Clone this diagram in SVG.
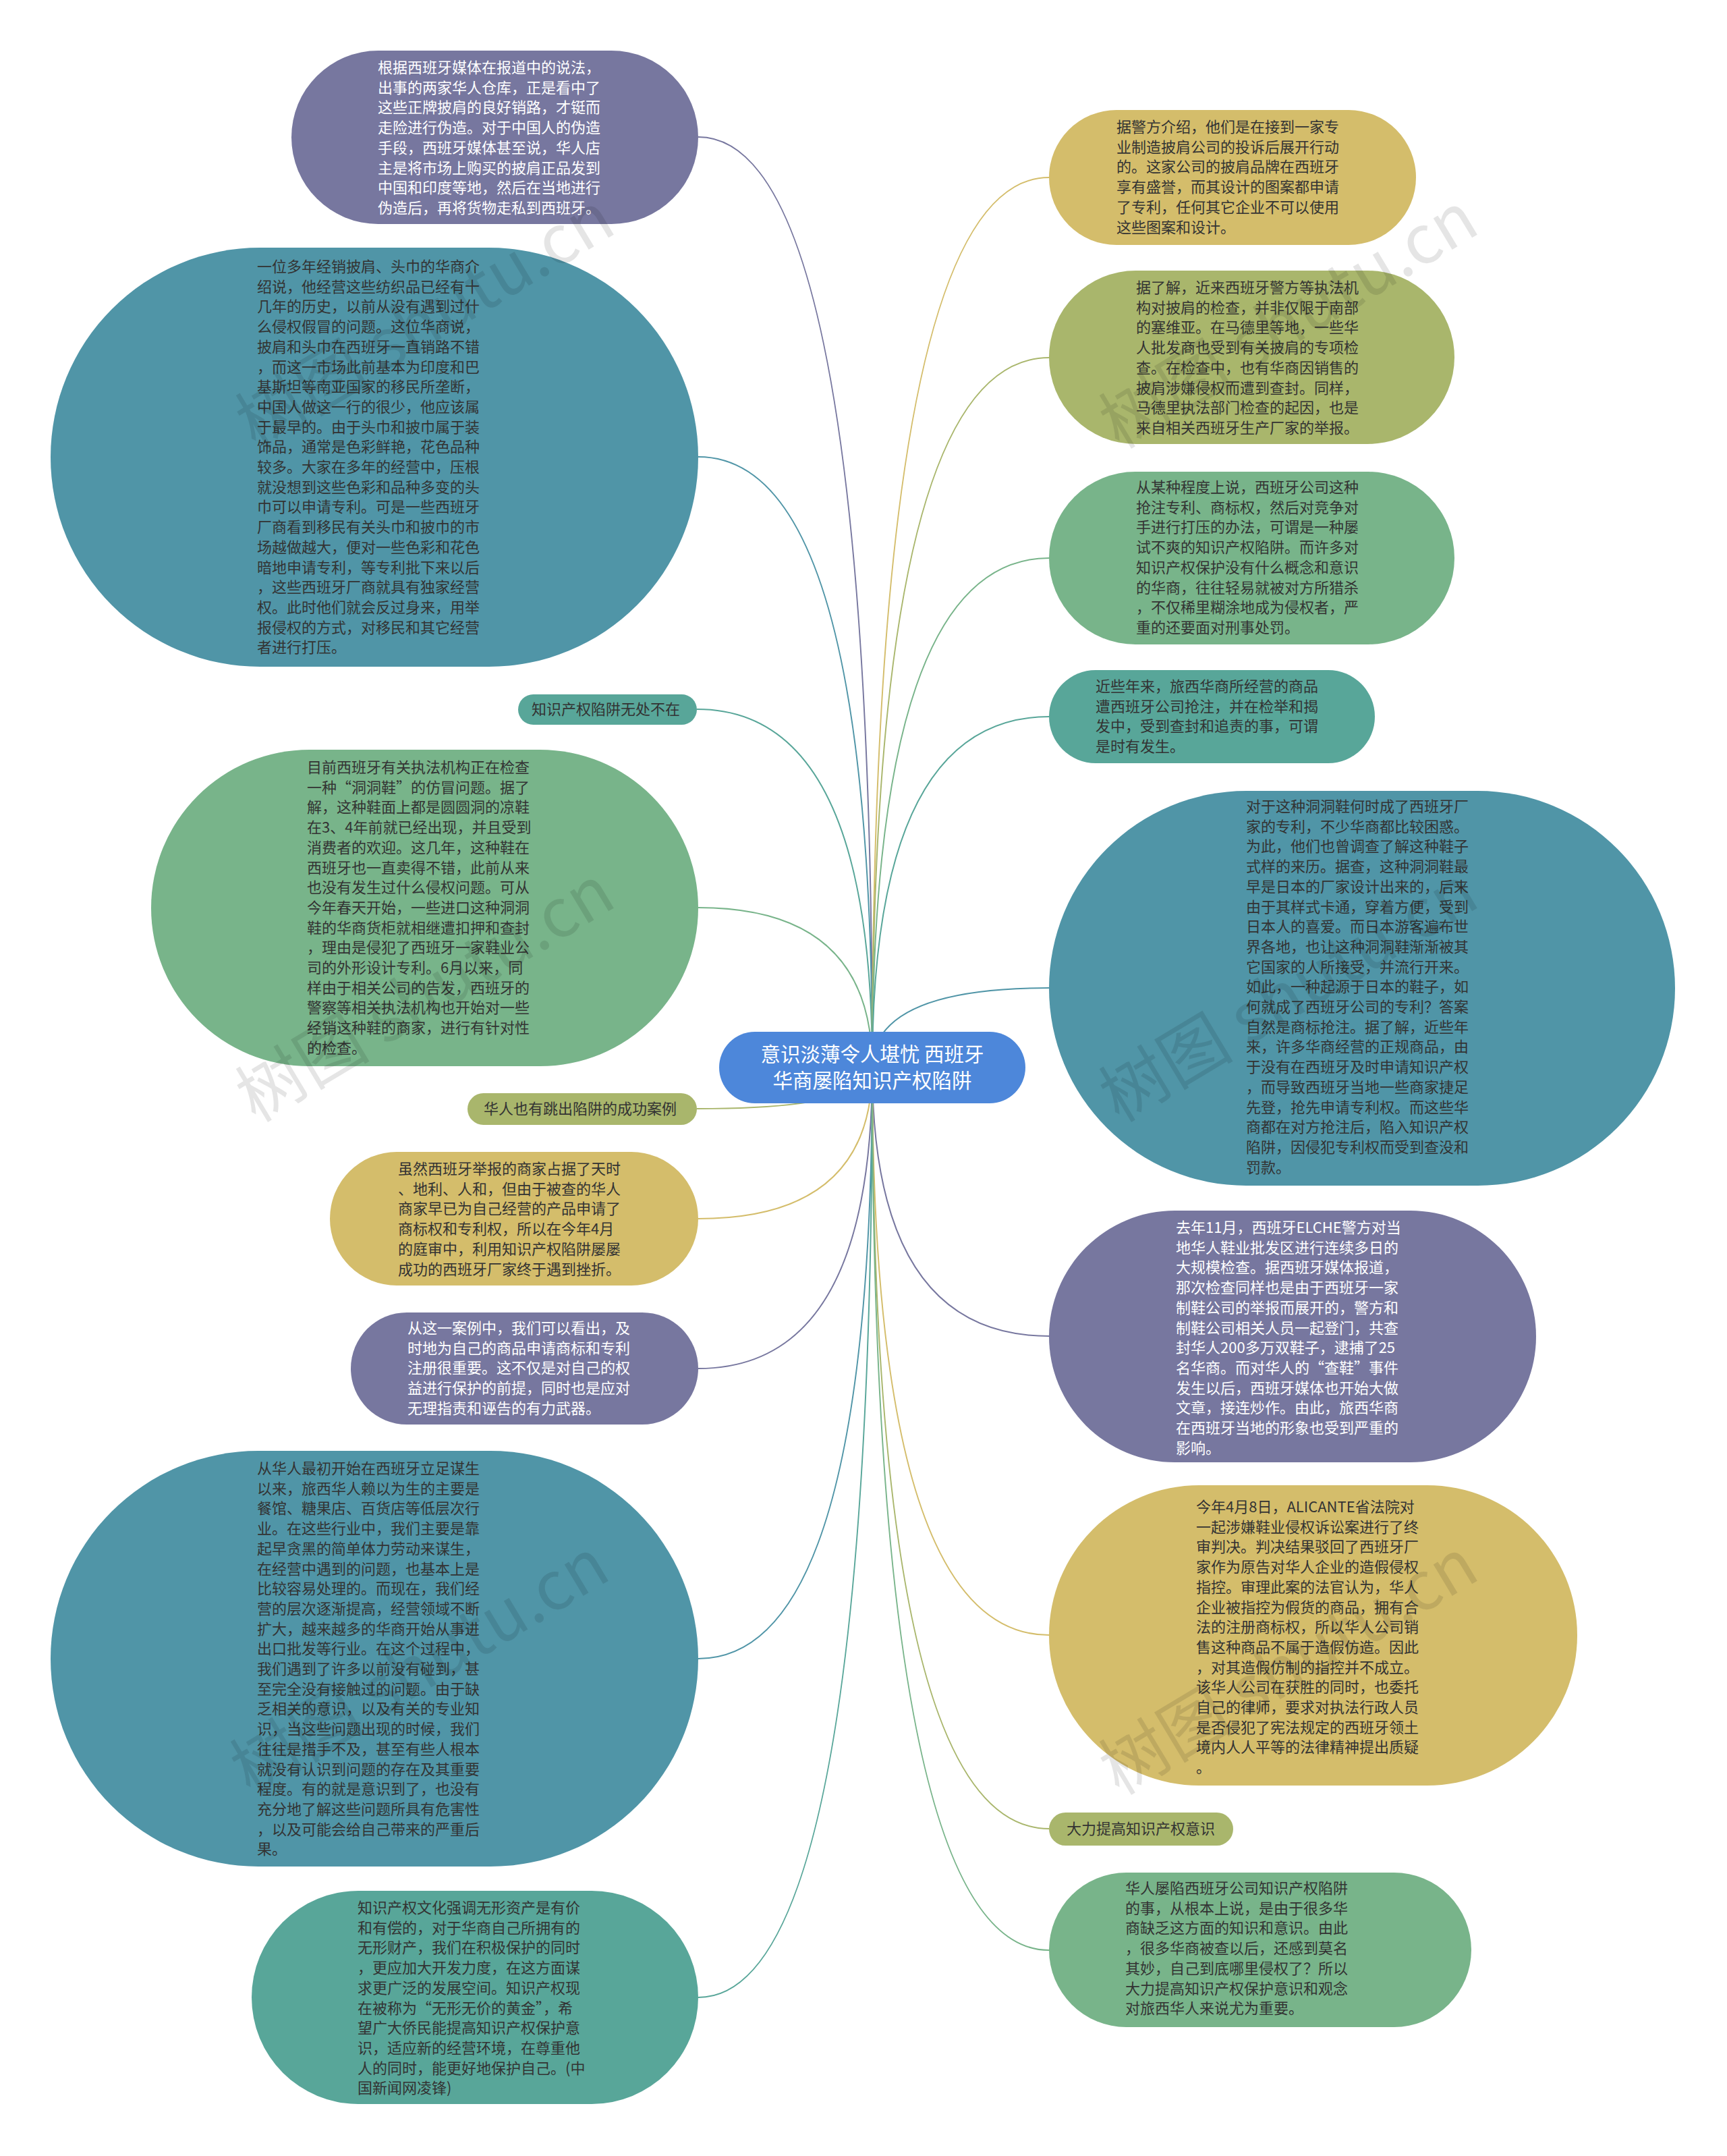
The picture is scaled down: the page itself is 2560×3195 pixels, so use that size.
<svg xmlns="http://www.w3.org/2000/svg" width="2560" height="3195" viewBox="0 0 2560 3195">
<style>
.t{font-family:"Noto Sans CJK SC","Noto Sans",sans-serif;font-size:22px}
.dk{fill:#333}
.wt{fill:#fff}
.e{fill:none;stroke-width:2}
.wm{font-family:"Noto Sans CJK SC","Noto Sans",sans-serif;font-size:100px;fill:#000;fill-opacity:0.1;text-anchor:middle}
</style>
<rect width="2560" height="3195" fill="#fff"/>
<g id="connectors">
<path class="e" stroke="#77779f" d="M1293 1582 Q1293 203 1035 203"/>
<path class="e" stroke="#5095a7" d="M1293 1582 Q1293 677 1035 677"/>
<path class="e" stroke="#58a699" d="M1293 1582 Q1293 1051 1033 1051"/>
<path class="e" stroke="#78b48a" d="M1293 1582 Q1293 1345 1035 1345"/>
<path class="e" stroke="#a9b66c" d="M1293 1582 Q1293 1643 1033 1643"/>
<path class="e" stroke="#d4bd6b" d="M1293 1582 Q1293 1806 1035 1806"/>
<path class="e" stroke="#77779f" d="M1293 1582 Q1293 2028 1035 2028"/>
<path class="e" stroke="#5095a7" d="M1293 1582 Q1293 2458 1035 2458"/>
<path class="e" stroke="#58a699" d="M1293 1582 Q1293 2960 1035 2960"/>
<path class="e" stroke="#d4bd6b" d="M1293 1582 Q1293 263 1555 263"/>
<path class="e" stroke="#a9b66c" d="M1293 1582 Q1293 530 1555 530"/>
<path class="e" stroke="#78b48a" d="M1293 1582 Q1293 827 1555 827"/>
<path class="e" stroke="#58a699" d="M1293 1582 Q1293 1062 1555 1062"/>
<path class="e" stroke="#5095a7" d="M1293 1582 Q1293 1464 1555 1464"/>
<path class="e" stroke="#77779f" d="M1293 1582 Q1293 1980 1555 1980"/>
<path class="e" stroke="#d4bd6b" d="M1293 1582 Q1293 2423 1555 2423"/>
<path class="e" stroke="#a9b66c" d="M1293 1582 Q1293 2710 1555 2710"/>
<path class="e" stroke="#78b48a" d="M1293 1582 Q1293 2890 1555 2890"/>
</g>

<g id="center">
<rect x="1066" y="1529" width="454" height="106" rx="53" fill="#4d87da"/>
<text class="wt" font-family="Noto Sans CJK SC, sans-serif" font-size="29.5" text-anchor="middle"><tspan x="1293" y="1573">意识淡薄令人堪忧 西班牙</tspan><tspan x="1293" y="1612">华商屡陷知识产权陷阱</tspan></text>
</g>

<g id="n1">
<rect x="432" y="75" width="603" height="257" rx="128.5" fill="#77779f"/>
<text class="t wt"><tspan x="560" y="108">根据西班牙媒体在报道中的说法，</tspan><tspan x="560" dy="29.7">出事的两家华人仓库，正是看中了</tspan><tspan x="560" dy="29.7">这些正牌披肩的良好销路，才铤而</tspan><tspan x="560" dy="29.7">走险进行伪造。对于中国人的伪造</tspan><tspan x="560" dy="29.7">手段，西班牙媒体甚至说，华人店</tspan><tspan x="560" dy="29.7">主是将市场上购买的披肩正品发到</tspan><tspan x="560" dy="29.7">中国和印度等地，然后在当地进行</tspan><tspan x="560" dy="29.7">伪造后，再将货物走私到西班牙。</tspan></text>
</g>

<g id="n2">
<rect x="75" y="367" width="960" height="621" rx="310.5" fill="#5095a7"/>
<text class="t dk"><tspan x="381" y="403">一位多年经销披肩、头巾的华商介</tspan><tspan x="381" dy="29.7">绍说，他经营这些纺织品已经有十</tspan><tspan x="381" dy="29.7">几年的历史，以前从没有遇到过什</tspan><tspan x="381" dy="29.7">么侵权假冒的问题。这位华商说，</tspan><tspan x="381" dy="29.7">披肩和头巾在西班牙一直销路不错</tspan><tspan x="381" dy="29.7">，而这一市场此前基本为印度和巴</tspan><tspan x="381" dy="29.7">基斯坦等南亚国家的移民所垄断，</tspan><tspan x="381" dy="29.7">中国人做这一行的很少，他应该属</tspan><tspan x="381" dy="29.7">于最早的。由于头巾和披巾属于装</tspan><tspan x="381" dy="29.7">饰品，通常是色彩鲜艳，花色品种</tspan><tspan x="381" dy="29.7">较多。大家在多年的经营中，压根</tspan><tspan x="381" dy="29.7">就没想到这些色彩和品种多变的头</tspan><tspan x="381" dy="29.7">巾可以申请专利。可是一些西班牙</tspan><tspan x="381" dy="29.7">厂商看到移民有关头巾和披巾的市</tspan><tspan x="381" dy="29.7">场越做越大，便对一些色彩和花色</tspan><tspan x="381" dy="29.7">暗地申请专利，等专利批下来以后</tspan><tspan x="381" dy="29.7">，这些西班牙厂商就具有独家经营</tspan><tspan x="381" dy="29.7">权。此时他们就会反过身来，用举</tspan><tspan x="381" dy="29.7">报侵权的方式，对移民和其它经营</tspan><tspan x="381" dy="29.7">者进行打压。</tspan></text>
</g>

<g id="l1">
<rect x="768" y="1029" width="265" height="45" rx="22.5" fill="#58a699"/>
<text class="t dk"><tspan x="788" y="1059">知识产权陷阱无处不在</tspan></text>
</g>

<g id="n3">
<rect x="224" y="1111" width="811" height="469" rx="234.5" fill="#78b48a"/>
<text class="t dk"><tspan x="455" y="1145">目前西班牙有关执法机构正在检查</tspan><tspan x="455" dy="29.7">一种“洞洞鞋”的仿冒问题。据了</tspan><tspan x="455" dy="29.7">解，这种鞋面上都是圆圆洞的凉鞋</tspan><tspan x="455" dy="29.7">在3、4年前就已经出现，并且受到</tspan><tspan x="455" dy="29.7">消费者的欢迎。这几年，这种鞋在</tspan><tspan x="455" dy="29.7">西班牙也一直卖得不错，此前从来</tspan><tspan x="455" dy="29.7">也没有发生过什么侵权问题。可从</tspan><tspan x="455" dy="29.7">今年春天开始，一些进口这种洞洞</tspan><tspan x="455" dy="29.7">鞋的华商货柜就相继遭扣押和查封</tspan><tspan x="455" dy="29.7">，理由是侵犯了西班牙一家鞋业公</tspan><tspan x="455" dy="29.7">司的外形设计专利。6月以来，同</tspan><tspan x="455" dy="29.7">样由于相关公司的告发，西班牙的</tspan><tspan x="455" dy="29.7">警察等相关执法机构也开始对一些</tspan><tspan x="455" dy="29.7">经销这种鞋的商家，进行有针对性</tspan><tspan x="455" dy="29.7">的检查。</tspan></text>
</g>

<g id="l2">
<rect x="693" y="1620" width="340" height="47" rx="23.5" fill="#a9b66c"/>
<text class="t dk"><tspan x="717" y="1651">华人也有跳出陷阱的成功案例</tspan></text>
</g>

<g id="n4">
<rect x="489" y="1707" width="546" height="198" rx="99" fill="#d4bd6b"/>
<text class="t dk"><tspan x="590" y="1740">虽然西班牙举报的商家占据了天时</tspan><tspan x="590" dy="29.7">、地利、人和，但由于被查的华人</tspan><tspan x="590" dy="29.7">商家早已为自己经营的产品申请了</tspan><tspan x="590" dy="29.7">商标权和专利权，所以在今年4月</tspan><tspan x="590" dy="29.7">的庭审中，利用知识产权陷阱屡屡</tspan><tspan x="590" dy="29.7">成功的西班牙厂家终于遇到挫折。</tspan></text>
</g>

<g id="n5">
<rect x="520" y="1945" width="515" height="166" rx="83" fill="#77779f"/>
<text class="t wt"><tspan x="604" y="1976">从这一案例中，我们可以看出，及</tspan><tspan x="604" dy="29.7">时地为自己的商品申请商标和专利</tspan><tspan x="604" dy="29.7">注册很重要。这不仅是对自己的权</tspan><tspan x="604" dy="29.7">益进行保护的前提，同时也是应对</tspan><tspan x="604" dy="29.7">无理指责和诬告的有力武器。</tspan></text>
</g>

<g id="n6">
<rect x="75" y="2150" width="960" height="616" rx="308" fill="#5095a7"/>
<text class="t dk"><tspan x="381" y="2184">从华人最初开始在西班牙立足谋生</tspan><tspan x="381" dy="29.7">以来，旅西华人赖以为生的主要是</tspan><tspan x="381" dy="29.7">餐馆、糖果店、百货店等低层次行</tspan><tspan x="381" dy="29.7">业。在这些行业中，我们主要是靠</tspan><tspan x="381" dy="29.7">起早贪黑的简单体力劳动来谋生，</tspan><tspan x="381" dy="29.7">在经营中遇到的问题，也基本上是</tspan><tspan x="381" dy="29.7">比较容易处理的。而现在，我们经</tspan><tspan x="381" dy="29.7">营的层次逐渐提高，经营领域不断</tspan><tspan x="381" dy="29.7">扩大，越来越多的华商开始从事进</tspan><tspan x="381" dy="29.7">出口批发等行业。在这个过程中，</tspan><tspan x="381" dy="29.7">我们遇到了许多以前没有碰到，甚</tspan><tspan x="381" dy="29.7">至完全没有接触过的问题。由于缺</tspan><tspan x="381" dy="29.7">乏相关的意识，以及有关的专业知</tspan><tspan x="381" dy="29.7">识，当这些问题出现的时候，我们</tspan><tspan x="381" dy="29.7">往往是措手不及，甚至有些人根本</tspan><tspan x="381" dy="29.7">就没有认识到问题的存在及其重要</tspan><tspan x="381" dy="29.7">程度。有的就是意识到了，也没有</tspan><tspan x="381" dy="29.7">充分地了解这些问题所具有危害性</tspan><tspan x="381" dy="29.7">，以及可能会给自己带来的严重后</tspan><tspan x="381" dy="29.7">果。</tspan></text>
</g>

<g id="n7">
<rect x="373" y="2802" width="662" height="316" rx="158" fill="#58a699"/>
<text class="t dk"><tspan x="530" y="2835">知识产权文化强调无形资产是有价</tspan><tspan x="530" dy="29.7">和有偿的，对于华商自己所拥有的</tspan><tspan x="530" dy="29.7">无形财产，我们在积极保护的同时</tspan><tspan x="530" dy="29.7">，更应加大开发力度，在这方面谋</tspan><tspan x="530" dy="29.7">求更广泛的发展空间。知识产权现</tspan><tspan x="530" dy="29.7">在被称为“无形无价的黄金”，希</tspan><tspan x="530" dy="29.7">望广大侨民能提高知识产权保护意</tspan><tspan x="530" dy="29.7">识，适应新的经营环境，在尊重他</tspan><tspan x="530" dy="29.7">人的同时，能更好地保护自己。(中</tspan><tspan x="530" dy="29.7">国新闻网凌锋)</tspan></text>
</g>

<g id="r1">
<rect x="1555" y="163" width="544" height="200" rx="100" fill="#d4bd6b"/>
<text class="t dk"><tspan x="1655" y="196">据警方介绍，他们是在接到一家专</tspan><tspan x="1655" dy="29.7">业制造披肩公司的投诉后展开行动</tspan><tspan x="1655" dy="29.7">的。这家公司的披肩品牌在西班牙</tspan><tspan x="1655" dy="29.7">享有盛誉，而其设计的图案都申请</tspan><tspan x="1655" dy="29.7">了专利，任何其它企业不可以使用</tspan><tspan x="1655" dy="29.7">这些图案和设计。</tspan></text>
</g>

<g id="r2">
<rect x="1555" y="401" width="601" height="257" rx="128.5" fill="#a9b66c"/>
<text class="t dk"><tspan x="1684" y="434">据了解，近来西班牙警方等执法机</tspan><tspan x="1684" dy="29.7">构对披肩的检查，并非仅限于南部</tspan><tspan x="1684" dy="29.7">的塞维亚。在马德里等地，一些华</tspan><tspan x="1684" dy="29.7">人批发商也受到有关披肩的专项检</tspan><tspan x="1684" dy="29.7">查。在检查中，也有华商因销售的</tspan><tspan x="1684" dy="29.7">披肩涉嫌侵权而遭到查封。同样，</tspan><tspan x="1684" dy="29.7">马德里执法部门检查的起因，也是</tspan><tspan x="1684" dy="29.7">来自相关西班牙生产厂家的举报。</tspan></text>
</g>

<g id="r3">
<rect x="1555" y="699" width="601" height="256" rx="128" fill="#78b48a"/>
<text class="t dk"><tspan x="1684" y="730">从某种程度上说，西班牙公司这种</tspan><tspan x="1684" dy="29.7">抢注专利、商标权，然后对竞争对</tspan><tspan x="1684" dy="29.7">手进行打压的办法，可谓是一种屡</tspan><tspan x="1684" dy="29.7">试不爽的知识产权陷阱。而许多对</tspan><tspan x="1684" dy="29.7">知识产权保护没有什么概念和意识</tspan><tspan x="1684" dy="29.7">的华商，往往轻易就被对方所猎杀</tspan><tspan x="1684" dy="29.7">，不仅稀里糊涂地成为侵权者，严</tspan><tspan x="1684" dy="29.7">重的还要面对刑事处罚。</tspan></text>
</g>

<g id="r4">
<rect x="1555" y="993" width="483" height="138" rx="69" fill="#58a699"/>
<text class="t dk"><tspan x="1624" y="1025">近些年来，旅西华商所经营的商品</tspan><tspan x="1624" dy="29.7">遭西班牙公司抢注，并在检举和揭</tspan><tspan x="1624" dy="29.7">发中，受到查封和追责的事，可谓</tspan><tspan x="1624" dy="29.7">是时有发生。</tspan></text>
</g>

<g id="r5">
<rect x="1555" y="1172" width="928" height="585" rx="292.5" fill="#5095a7"/>
<text class="t dk"><tspan x="1847" y="1203">对于这种洞洞鞋何时成了西班牙厂</tspan><tspan x="1847" dy="29.7">家的专利，不少华商都比较困惑。</tspan><tspan x="1847" dy="29.7">为此，他们也曾调查了解这种鞋子</tspan><tspan x="1847" dy="29.7">式样的来历。据查，这种洞洞鞋最</tspan><tspan x="1847" dy="29.7">早是日本的厂家设计出来的，后来</tspan><tspan x="1847" dy="29.7">由于其样式卡通，穿着方便，受到</tspan><tspan x="1847" dy="29.7">日本人的喜爱。而日本游客遍布世</tspan><tspan x="1847" dy="29.7">界各地，也让这种洞洞鞋渐渐被其</tspan><tspan x="1847" dy="29.7">它国家的人所接受，并流行开来。</tspan><tspan x="1847" dy="29.7">如此，一种起源于日本的鞋子，如</tspan><tspan x="1847" dy="29.7">何就成了西班牙公司的专利？答案</tspan><tspan x="1847" dy="29.7">自然是商标抢注。据了解，近些年</tspan><tspan x="1847" dy="29.7">来，许多华商经营的正规商品，由</tspan><tspan x="1847" dy="29.7">于没有在西班牙及时申请知识产权</tspan><tspan x="1847" dy="29.7">，而导致西班牙当地一些商家捷足</tspan><tspan x="1847" dy="29.7">先登，抢先申请专利权。而这些华</tspan><tspan x="1847" dy="29.7">商都在对方抢注后，陷入知识产权</tspan><tspan x="1847" dy="29.7">陷阱，因侵犯专利权而受到查没和</tspan><tspan x="1847" dy="29.7">罚款。</tspan></text>
</g>

<g id="r6">
<rect x="1555" y="1794" width="722" height="373" rx="186.5" fill="#77779f"/>
<text class="t wt"><tspan x="1743" y="1827">去年11月，西班牙ELCHE警方对当</tspan><tspan x="1743" dy="29.7">地华人鞋业批发区进行连续多日的</tspan><tspan x="1743" dy="29.7">大规模检查。据西班牙媒体报道，</tspan><tspan x="1743" dy="29.7">那次检查同样也是由于西班牙一家</tspan><tspan x="1743" dy="29.7">制鞋公司的举报而展开的，警方和</tspan><tspan x="1743" dy="29.7">制鞋公司相关人员一起登门，共查</tspan><tspan x="1743" dy="29.7">封华人200多万双鞋子，逮捕了25</tspan><tspan x="1743" dy="29.7">名华商。而对华人的“查鞋”事件</tspan><tspan x="1743" dy="29.7">发生以后，西班牙媒体也开始大做</tspan><tspan x="1743" dy="29.7">文章，接连炒作。由此，旅西华商</tspan><tspan x="1743" dy="29.7">在西班牙当地的形象也受到严重的</tspan><tspan x="1743" dy="29.7">影响。</tspan></text>
</g>

<g id="r7">
<rect x="1555" y="2201" width="783" height="445" rx="222.5" fill="#d4bd6b"/>
<text class="t dk"><tspan x="1773" y="2241">今年4月8日，ALICANTE省法院对</tspan><tspan x="1773" dy="29.7">一起涉嫌鞋业侵权诉讼案进行了终</tspan><tspan x="1773" dy="29.7">审判决。判决结果驳回了西班牙厂</tspan><tspan x="1773" dy="29.7">家作为原告对华人企业的造假侵权</tspan><tspan x="1773" dy="29.7">指控。审理此案的法官认为，华人</tspan><tspan x="1773" dy="29.7">企业被指控为假货的商品，拥有合</tspan><tspan x="1773" dy="29.7">法的注册商标权，所以华人公司销</tspan><tspan x="1773" dy="29.7">售这种商品不属于造假仿造。因此</tspan><tspan x="1773" dy="29.7">，对其造假仿制的指控并不成立。</tspan><tspan x="1773" dy="29.7">该华人公司在获胜的同时，也委托</tspan><tspan x="1773" dy="29.7">自己的律师，要求对执法行政人员</tspan><tspan x="1773" dy="29.7">是否侵犯了宪法规定的西班牙领土</tspan><tspan x="1773" dy="29.7">境内人人平等的法律精神提出质疑</tspan><tspan x="1773" dy="29.7">。</tspan></text>
</g>

<g id="l3">
<rect x="1555" y="2686" width="273" height="49" rx="24.5" fill="#a9b66c"/>
<text class="t dk"><tspan x="1581" y="2718">大力提高知识产权意识</tspan></text>
</g>

<g id="r8">
<rect x="1555" y="2775" width="626" height="229" rx="114.5" fill="#78b48a"/>
<text class="t dk"><tspan x="1668" y="2806">华人屡陷西班牙公司知识产权陷阱</tspan><tspan x="1668" dy="29.7">的事，从根本上说，是由于很多华</tspan><tspan x="1668" dy="29.7">商缺乏这方面的知识和意识。由此</tspan><tspan x="1668" dy="29.7">，很多华商被查以后，还感到莫名</tspan><tspan x="1668" dy="29.7">其妙，自己到底哪里侵权了？所以</tspan><tspan x="1668" dy="29.7">大力提高知识产权保护意识和观念</tspan><tspan x="1668" dy="29.7">对旅西华人来说尤为重要。</tspan></text>
</g>

<g id="watermarks">
<text class="wm" transform="translate(648 505) rotate(-31)">树图 shutu.cn</text>
<text class="wm" transform="translate(648 1503) rotate(-31)">树图 shutu.cn</text>
<text class="wm" transform="translate(640 2500) rotate(-31)">树图 shutu.cn</text>
<text class="wm" transform="translate(1928 505) rotate(-31)">树图 shutu.cn</text>
<text class="wm" transform="translate(1928 1503) rotate(-31)">树图 shutu.cn</text>
<text class="wm" transform="translate(1928 2500) rotate(-31)">树图 shutu.cn</text>
</g>
</svg>
